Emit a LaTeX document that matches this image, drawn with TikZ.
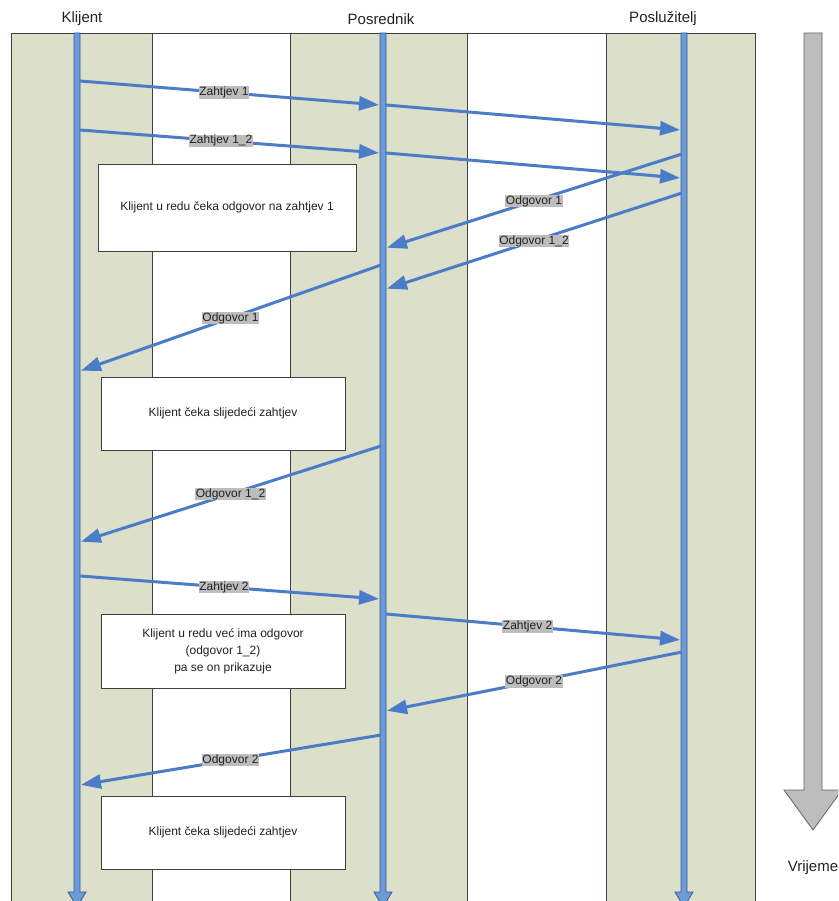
\documentclass[tikz,border=0pt]{standalone}
\usepackage{fontspec}
\setmainfont{Liberation Sans}
\usetikzlibrary{arrows.meta}
\definecolor{lanefill}{HTML}{DCDFCA}
\definecolor{laneline}{HTML}{404040}
\definecolor{msgblue}{HTML}{4A7CC8}
\definecolor{lifefill}{HTML}{6C9BD8}
\definecolor{lifeline}{HTML}{34589A}
\definecolor{tagfill}{HTML}{BDBDBD}
\definecolor{txt}{HTML}{222222}
\tikzset{
  lanebox/.style={fill=lanefill},
  laneedge/.style={draw=laneline, line width=0.8pt},
  title/.style={font=\fontsize{15}{17}\selectfont, text=txt},
  note/.style={draw=laneline, line width=0.8pt, fill=white, align=center,
    font=\fontsize{12}{17}\selectfont, text=txt},
  msg/.style={draw=msgblue, line width=3pt,
    -{Triangle[length=20pt, width=14pt]}, shorten >=1pt},
  tag/.style={fill=tagfill, inner sep=0.6pt, font=\fontsize{12}{14}\selectfont,
    text=txt, sloped=false},
  lifebar/.style={fill=lifefill, draw=lifeline, line width=0.8pt},
  timearrow/.style={fill=tagfill, draw=laneline!80, line width=0.8pt}
}
\begin{document}
\begin{tikzpicture}[x=1pt, y=-1pt]
\useasboundingbox (0,0) rectangle (838,901);
\clip (0,0) rectangle (838,901);

% swim lanes
\fill[lanebox] (11,33) rectangle (152,910);
\fill[lanebox] (290,33) rectangle (467,910);
\fill[lanebox] (606,33) rectangle (755,910);
\draw[laneedge] (11,910) -- (11,33) -- (755,33) -- (755,910);
\foreach \lx in {152,290,467,606} \draw[laneedge] (\lx,33) -- (\lx,910);

% participant titles
\node[title] (tk) at (82,19) {Klijent};
\node[title] (tp) at (381,19) {Posrednik};
\node[title] (ts) at (663,19) {Poslužitelj};

% life lines
\foreach \lx in {77,383,684}
  \filldraw[lifebar] (\lx-3,33) -- (\lx+3,33) -- (\lx+3,892) -- (\lx+9,892)
    -- (\lx,907) -- (\lx-9,892) -- (\lx-3,892) -- cycle;

% time arrow
\filldraw[timearrow] (804,33) -- (822,33) -- (822,790) -- (842,790)
  -- (813,830) -- (784,790) -- (804,790) -- cycle;
\node[title] (vr) at (813,868) {Vrijeme};

% notes on the client side
\node[note, minimum width=258pt, minimum height=87pt] (n1) at (227,207.5)
  {Klijent u redu čeka odgovor na zahtjev 1};
\node[note, minimum width=244pt, minimum height=73pt] (n2) at (223,413.5)
  {Klijent čeka slijedeći zahtjev};
\node[note, minimum width=244pt, minimum height=74pt] (n3) at (223,651)
  {Klijent u redu već ima odgovor\\(odgovor 1\_2)\\pa se on prikazuje};
\node[note, minimum width=244pt, minimum height=73pt] (n4) at (223,832.5)
  {Klijent čeka slijedeći zahtjev};

% message end points
\coordinate (k1) at (80,81);   \coordinate (p1) at (380,105);
\coordinate (p1b) at (386,105); \coordinate (s1) at (681,130);
\coordinate (k2) at (80,130);  \coordinate (p2) at (380,153);
\coordinate (p2b) at (386,153); \coordinate (s2) at (681,178);
\coordinate (s3) at (682,154); \coordinate (p3) at (386,248);
\coordinate (s4) at (682,193); \coordinate (p4) at (386,289);
\coordinate (p5) at (381,265); \coordinate (k5) at (80,371);
\coordinate (p6) at (381,446); \coordinate (k6) at (80,542);
\coordinate (k7) at (80,576);  \coordinate (p7) at (380,599);
\coordinate (p8) at (386,614); \coordinate (s8) at (681,640);
\coordinate (s9) at (682,652); \coordinate (p9) at (386,711);
\coordinate (p10) at (381,735); \coordinate (k10) at (80,785);

% messages
\draw[msg] (k1) -- node[tag, pos=0.48] {Zahtjev 1} (p1);
\draw[msg] (p1b) -- (s1);
\draw[msg] (k2) -- node[tag, pos=0.47] {Zahtjev 1\_2} (p2);
\draw[msg] (p2b) -- (s2);
\draw[msg] (s3) -- node[tag, pos=0.5] {Odgovor 1} (p3);
\draw[msg] (s4) -- node[tag, pos=0.5] {Odgovor 1\_2} (p4);
\draw[msg] (p5) -- node[tag, pos=0.5] {Odgovor 1} (k5);
\draw[msg] (p6) -- node[tag, pos=0.5] {Odgovor 1\_2} (k6);
\draw[msg] (k7) -- node[tag, pos=0.48] {Zahtjev 2} (p7);
\draw[msg] (p8) -- node[tag, pos=0.48] {Zahtjev 2} (s8);
\draw[msg] (s9) -- node[tag, pos=0.5] {Odgovor 2} (p9);
\draw[msg] (p10) -- node[tag, pos=0.5] {Odgovor 2} (k10);
\end{tikzpicture}
\end{document}
